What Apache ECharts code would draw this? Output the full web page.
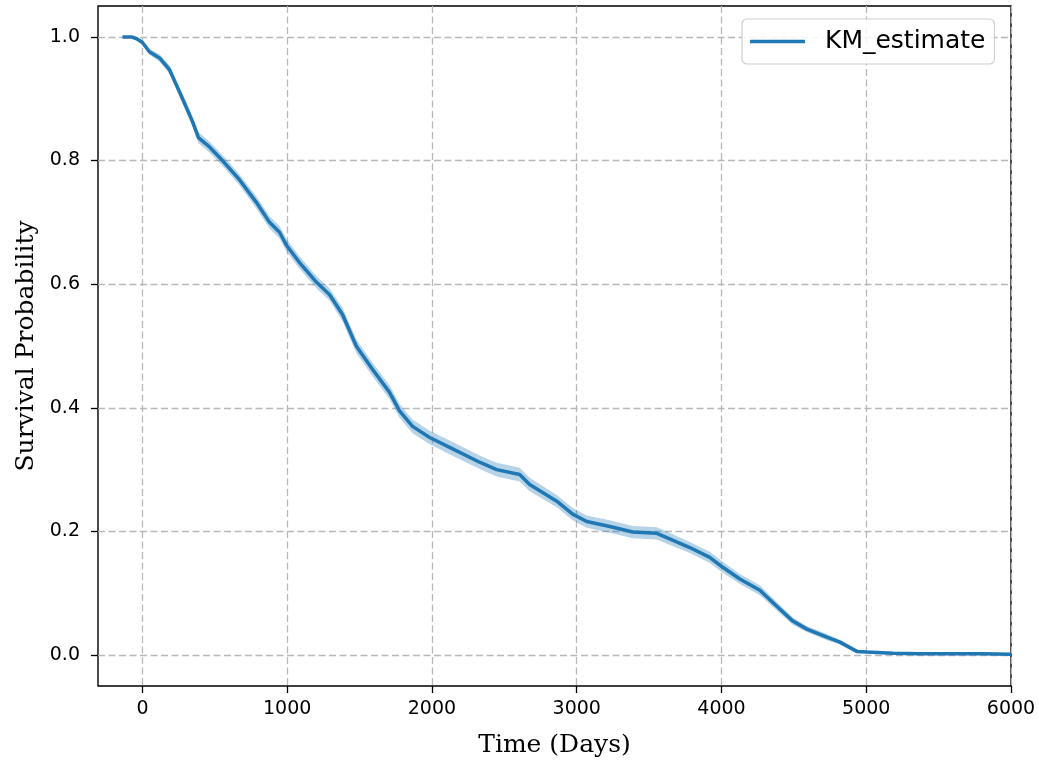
<!DOCTYPE html>
<html>
<head>
<meta charset="utf-8">
<title>Kaplan-Meier survival curve</title>
<script src="https://cdn.jsdelivr.net/npm/echarts@6/dist/echarts.min.js"></script>
<style>
  html, body { margin: 0; padding: 0; background: #fff; }
  #chart { width: 1039px; height: 763px; }
</style>
</head>
<body>
<div id="chart"></div>
<script>
// Kaplan-Meier estimate: time in days and survival probability
const timeDays = [
  -138, -76, -40, 0, 48, 118, 187, 235, 290, 346, 387, 463, 553, 670, 788, 878,
  947, 995, 1085, 1203, 1293, 1382, 1479, 1590, 1707, 1776, 1866, 1984, 2122,
  2329, 2447, 2606, 2675, 2862, 2972, 3069, 3228, 3387, 3553, 3622, 3781, 3919,
  4009, 4127, 4265, 4382, 4493, 4590, 4728, 4818, 4935, 5004, 5184, 5371, 5800, 6000
];
const survival = [
  1.000, 1.000, 0.997, 0.991, 0.976, 0.966, 0.947, 0.922, 0.893, 0.863, 0.837, 0.822,
  0.800, 0.769, 0.732, 0.700, 0.684, 0.663, 0.635, 0.603, 0.583, 0.551, 0.499, 0.462,
  0.425, 0.395, 0.370, 0.352, 0.336, 0.312, 0.300, 0.292, 0.276, 0.249, 0.228, 0.216,
  0.208, 0.199, 0.197, 0.190, 0.174, 0.158, 0.142, 0.123, 0.105, 0.079, 0.055, 0.042,
  0.029, 0.021, 0.006, 0.005, 0.003, 0.002, 0.002, 0.0015
];
// 95% confidence interval bounds
const ciLower = [
  1.000, 1.000, 0.995, 0.987, 0.971, 0.960, 0.940, 0.915, 0.885, 0.855, 0.828, 0.813,
  0.791, 0.760, 0.722, 0.690, 0.674, 0.653, 0.625, 0.593, 0.573, 0.540, 0.488, 0.451,
  0.414, 0.384, 0.359, 0.341, 0.325, 0.301, 0.289, 0.281, 0.265, 0.239, 0.218, 0.206,
  0.198, 0.189, 0.187, 0.180, 0.165, 0.149, 0.133, 0.115, 0.097, 0.072, 0.049, 0.037,
  0.024, 0.017, 0.003, 0.003, 0.001, 0.001, 0.001, 0.001
];
const ciUpper = [
  1.000, 1.000, 0.999, 0.995, 0.981, 0.972, 0.954, 0.929, 0.901, 0.871, 0.846, 0.831,
  0.809, 0.778, 0.742, 0.710, 0.694, 0.673, 0.645, 0.613, 0.593, 0.562, 0.510, 0.473,
  0.436, 0.406, 0.381, 0.363, 0.347, 0.323, 0.311, 0.303, 0.287, 0.259, 0.238, 0.226,
  0.218, 0.209, 0.207, 0.200, 0.183, 0.167, 0.151, 0.131, 0.113, 0.086, 0.061, 0.047,
  0.034, 0.025, 0.009, 0.007, 0.005, 0.003, 0.003, 0.002
];
const xTicks = [0, 1000, 2000, 3000, 4000, 5000, 6000];
const yTicks = [0.0, 0.2, 0.4, 0.6, 0.8, 1.0];

const lineColor = '#1f77b4';
const tickFont = { fontFamily: 'DejaVu Sans', fontSize: 19, color: '#000' };
const labelFont = { fontFamily: 'DejaVu Serif', fontSize: 25, color: '#000' };

const chart = echarts.init(document.getElementById('chart'), null, { renderer: 'canvas' });

const curve = timeDays.map((t, i) => [t, survival[i]]);
const band = timeDays.map((t, i) => [t, ciLower[i], ciUpper[i]]);

const gridLine = { show: true, lineStyle: { color: '#b8b8b8', width: 1.3, type: [7, 3.5] } };
const tickStyle = { color: '#000', width: 1.3 };

const option = {
  backgroundColor: '#fff',
  animation: false,
  grid: {
    left: 98, right: 28, top: 6, bottom: 76,
    show: true, borderColor: '#000', borderWidth: 1.4, backgroundColor: 'transparent'
  },
  legend: {
    data: [{ name: 'KM_estimate', icon: 'rect' }],
    left: 742, top: 19,
    padding: [10, 9, 10, 8],
    itemWidth: 55, itemHeight: 3.5,
    backgroundColor: 'rgba(255,255,255,0.85)',
    borderColor: '#d0d0d0', borderWidth: 1.2, borderRadius: 5,
    textStyle: { fontFamily: 'DejaVu Sans', fontSize: 25, color: '#000', padding: [0, 0, 0, 15] },
    selectedMode: false
  },
  xAxis: {
    type: 'value', min: -307, max: 6000,
    name: 'Time (Days)', nameLocation: 'middle', nameGap: 47,
    nameTextStyle: labelFont,
    axisLine: { show: false, onZero: false },
    axisTick: { show: true, customValues: xTicks, length: 7, lineStyle: tickStyle },
    axisLabel: { customValues: xTicks, margin: 14, formatter: v => String(v), ...tickFont },
    splitLine: gridLine
  },
  yAxis: {
    type: 'value', min: -0.05, max: 1.05,
    name: 'Survival Probability', nameLocation: 'middle', nameGap: 59,
    nameTextStyle: labelFont,
    axisLine: { show: false, onZero: false },
    axisTick: { show: true, customValues: yTicks, length: 7, lineStyle: tickStyle },
    axisLabel: { customValues: yTicks, margin: 18, formatter: v => v.toFixed(1), ...tickFont },
    splitLine: gridLine
  },
  series: [
    {
      // confidence band drawn as one polygon through the axis scales
      type: 'custom',
      name: 'ci',
      clip: true,
      silent: true,
      data: band,
      encode: { x: 0, y: [1, 2] },
      renderItem: function (params, api) {
        if (params.dataIndex !== 0) return null;
        const pts = [];
        for (let i = 0; i < band.length; i++) pts.push(api.coord([band[i][0], band[i][2]]));
        for (let i = band.length - 1; i >= 0; i--) pts.push(api.coord([band[i][0], band[i][1]]));
        return {
          type: 'polygon',
          shape: { points: pts },
          style: { fill: lineColor, opacity: 0.32 }
        };
      },
      z: 1
    },
    {
      type: 'line',
      name: 'KM_estimate',
      data: curve,
      showSymbol: false,
      clip: true,
      lineStyle: { color: lineColor, width: 3.5 },
      itemStyle: { color: lineColor },
      z: 3
    }
  ]
};
chart.setOption(option);
</script>
</body>
</html>
